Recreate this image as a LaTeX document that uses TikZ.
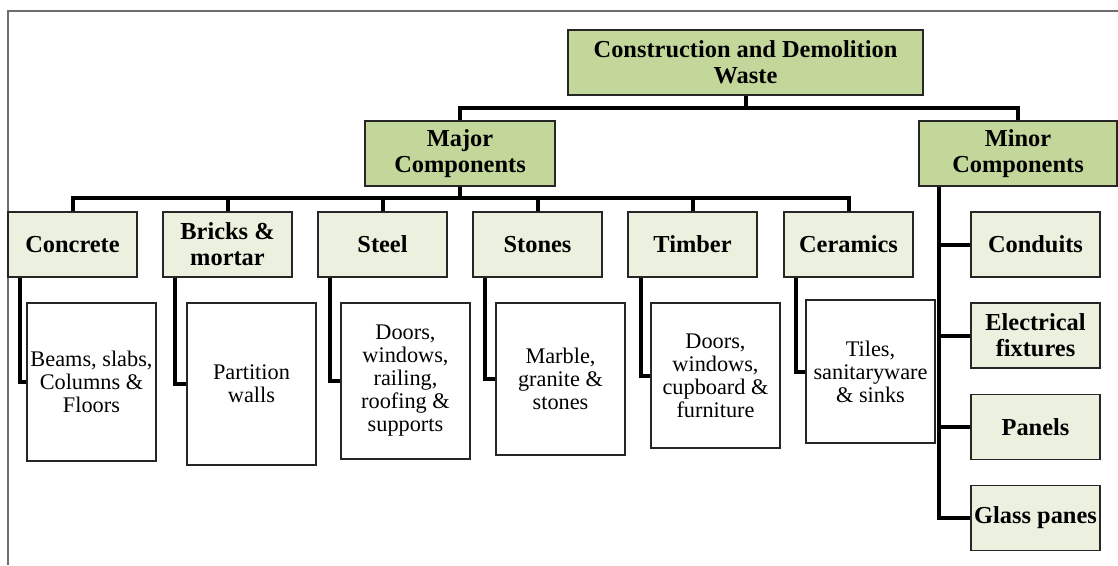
\documentclass[tikz,border=0pt]{standalone}
\usepackage{fontspec}
\setmainfont{Liberation Serif}
\definecolor{darkgreen}{HTML}{C4D79B}
\definecolor{lightgreen}{HTML}{EBF1DE}
\definecolor{framegray}{HTML}{6E6E6E}
\begin{document}
\begin{tikzpicture}[x=1pt,y=-1pt,
  boxbase/.style={draw=black!85, line width=1.6pt, align=center, inner sep=0pt, anchor=center},
  topbox/.style={boxbase, fill=darkgreen, minimum height=65pt, font=\fontsize{24.4}{26}\selectfont\bfseries},
  catbox/.style={boxbase, fill=lightgreen, minimum width=129pt, minimum height=65pt, font=\fontsize{24.4}{26}\selectfont\bfseries},
  leafbox/.style={boxbase, fill=white, minimum width=129pt, font=\fontsize{22.3}{23}\selectfont},
  conn/.style={line width=4pt, black}]
\useasboundingbox (0,0) rectangle (1118,565);
\draw[framegray, line width=1.5pt] (8,565) -- (8,11) -- (1118,11);

\node[topbox, minimum width=355pt] (root) at (745.5,62.5) {Construction and Demolition\\Waste};
\node[topbox, minimum width=190pt] (major) at (460,153.5) {Major\\Components};
\node[topbox, minimum width=198pt] (minor) at (1018,153.5) {Minor\\Components};

\node[catbox] (concrete) at (72.5,244.5) {Concrete};
\node[catbox] (bricks) at (227.5,244.5) {Bricks \&\\mortar};
\node[catbox] (steel) at (382.5,244.5) {Steel};
\node[catbox] (stones) at (537.5,244.5) {Stones};
\node[catbox] (timber) at (692.5,244.5) {Timber};
\node[catbox] (ceramics) at (848.5,244.5) {Ceramics};

\node[leafbox, minimum height=158pt] (leafA) at (91.5,382) {Beams, slabs,\\Columns \&\\Floors};
\node[leafbox, minimum height=162pt] (leafB) at (251.5,384) {Partition\\walls};
\node[leafbox, minimum height=156pt] (leafC) at (405.5,381) {Doors,\\windows,\\railing,\\roofing \&\\supports};
\node[leafbox, minimum height=152pt] (leafD) at (560.5,379) {Marble,\\granite \&\\stones};
\node[leafbox, minimum height=145pt] (leafE) at (715.5,375.5) {Doors,\\windows,\\cupboard \&\\furniture};
\node[leafbox, minimum height=143pt] (leafF) at (870.5,371.5) {Tiles,\\sanitaryware\\\& sinks};

\node[catbox] (conduits) at (1035.5,244.5) {Conduits};
\node[catbox] (electrical) at (1035.5,335.5) {Electrical\\fixtures};
\node[catbox] (panels) at (1035.5,427) {Panels};
\node[catbox] (glass) at (1035.5,518) {Glass panes};

\coordinate (bus1) at (0,108);
\coordinate (bus2) at (0,198);

\draw[conn] (root.south) -- (root.south |- bus1);
\draw[conn] (major.north) -- (major.north |- bus1) -- (minor.north |- bus1) -- (minor.north);

\draw[conn] (major.south) -- (major.south |- bus2);
\draw[conn] (concrete.north) -- (concrete.north |- bus2) -- (ceramics.north |- bus2) -- (ceramics.north);
\foreach \n in {bricks,steel,stones,timber}
  \draw[conn] (\n.north) -- (\n.north |- bus2);

\draw[conn] ([xshift=12.5pt]concrete.south west) |- (leafA.west);
\draw[conn] ([xshift=13pt]bricks.south west) |- (leafB.west);
\draw[conn] ([xshift=13pt]steel.south west) |- (leafC.west);
\draw[conn] ([xshift=13pt]stones.south west) |- (leafD.west);
\draw[conn] ([xshift=14pt]timber.south west) |- (leafE.west);
\draw[conn] ([xshift=13pt]ceramics.south west) |- (leafF.west);

\coordinate (trunk) at ([xshift=21pt]minor.south west);
\draw[conn] (trunk) |- (glass.west);
\foreach \n in {conduits,electrical,panels}
  \draw[conn] (\n.west) -- (\n.west -| trunk);
\end{tikzpicture}
\end{document}
